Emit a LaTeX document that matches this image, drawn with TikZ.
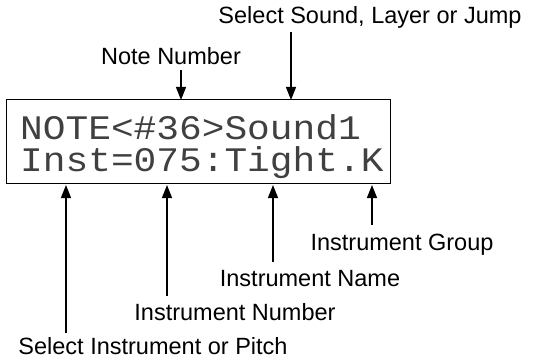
\documentclass[tikz,border=0pt]{standalone}
\usepackage{fontspec}
\setmainfont{Liberation Sans}
\newfontfamily\lcdfont[FakeStretch=1.1]{Liberation Mono}
\usetikzlibrary{arrows.meta}
\begin{document}
\begin{tikzpicture}[x=1pt,y=1pt,
  lbl/.style={font=\fontsize{23.5}{26}\selectfont, inner sep=0pt, anchor=base},
  lcd/.style={font=\lcdfont\fontsize{34.4}{36}\selectfont, inner sep=0pt, anchor=base west, text=black!75},
  arr/.style={line width=1.3pt, -{Triangle[length=13pt,width=10pt]}}]
\useasboundingbox (0,0) rectangle (534,359);
% LCD box
\node[draw, line width=1.3pt, minimum width=384pt, minimum height=84pt, inner sep=0pt, anchor=north west] (box) at (6,260) {};
\node[lcd] (l1) at (20,219) {NOTE<\#36>Sound1};
\node[lcd] (l2) at (20,188) {Inst=075:Tight.K};
% top labels
\node[lbl] (sel) at (370,335) {Select Sound, Layer or Jump};
\node[lbl] (note) at (171,294) {Note Number};
\coordinate (tS) at (291,259);
\coordinate (tN) at (181,259);
\coordinate (fS) at (291,327);
\coordinate (fN) at (181,289);
\draw[arr] (fS) -- (tS);
\draw[arr] (fN) -- (tN);
% bottom labels
\node[lbl] (grp) at (402,109) {Instrument Group};
\node[lbl] (nam) at (310,73) {Instrument Name};
\node[lbl] (num) at (235,39) {Instrument Number};
\node[lbl] (pit) at (153,5) {Select Instrument or Pitch};
\coordinate (hG) at (372,174);
\coordinate (hM) at (273,174);
\coordinate (hU) at (167,174);
\coordinate (hP) at (66,174);
\coordinate (gG) at (372,134);
\coordinate (gM) at (273,97);
\coordinate (gU) at (167,63);
\coordinate (gP) at (66,26);
\draw[arr] (gG) -- (hG);
\draw[arr] (gM) -- (hM);
\draw[arr] (gU) -- (hU);
\draw[arr] (gP) -- (hP);
\end{tikzpicture}
\end{document}
